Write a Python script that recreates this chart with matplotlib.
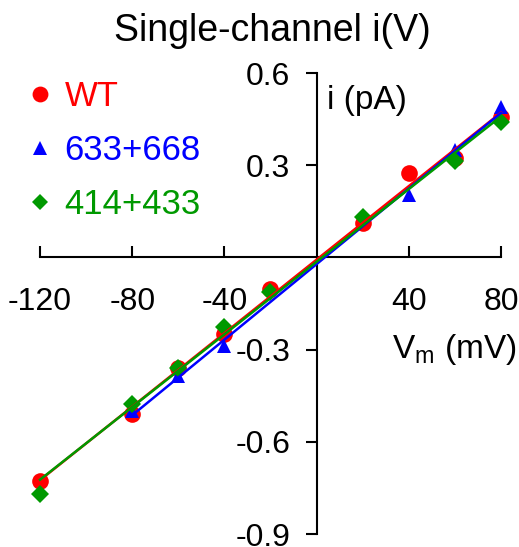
import numpy as np
import matplotlib
matplotlib.use("Agg")
import matplotlib.pyplot as plt
from matplotlib.lines import Line2D

plt.rcParams['font.family'] = ['Liberation Sans', 'DejaVu Sans']

# Data (mV, pA)
v_wt = [-120, -80, -60, -40, -20, 20, 40, 60, 80]
i_wt = [-0.727, -0.509, -0.359, -0.248, -0.104, 0.111, 0.274, 0.323, 0.456]

v_633 = [-80, -60, -40, 40, 60, 80]
i_633 = [-0.499, -0.385, -0.287, 0.202, 0.349, 0.489]

v_414 = [-120, -80, -60, -40, -20, 20, 60, 80]
i_414 = [-0.769, -0.476, -0.359, -0.225, -0.112, 0.130, 0.313, 0.440]

labels = ['WT', '633+668', '414+433']
colors = ['#ff0000', '#0000ff', '#009900']
markers = ['o', '^', 'D']
msizes = [12.0, 10.5, 9.0]

xticks = [-120, -80, -40, 40, 80]
yticks = [-0.9, -0.6, -0.3, 0.3, 0.6]
ytick_labels = ['-0.9', '-0.6', '-0.3', '0.3', '0.6']

W, H = 519, 547
fig = plt.figure(figsize=(W / 100, H / 100), dpi=100)
ax = fig.add_axes([40 / W, (H - 534) / H, 461 / W, 461 / H])
ax.set_xlim(-120, 80)
ax.set_ylim(-0.9, 0.6)

series = [(v_wt, i_wt), (v_633, i_633), (v_414, i_414)]
for (v, i), c, m, ms in zip(series, colors, markers, msizes):
    v = np.array(v, float)
    i = np.array(i, float)
    ax.plot(v, i, linestyle='none', marker=m, color=c, markersize=ms,
            markeredgewidth=0, clip_on=False, zorder=3)
for (v, i), c in zip(series, colors):
    v = np.array(v, float)
    i = np.array(i, float)
    p = np.polyfit(v, i, 1)
    xs = np.array([v.min(), v.max()])
    ax.plot(xs, np.polyval(p, xs), color=c, lw=1.8, clip_on=False, zorder=4)

for s in ['top', 'right']:
    ax.spines[s].set_visible(False)
ax.spines['left'].set_position(('data', 0))
ax.spines['bottom'].set_position(('data', 0))
ax.spines['left'].set_linewidth(1.5)
ax.spines['bottom'].set_linewidth(1.5)

ax.set_xticks(xticks)
ax.set_xticklabels([str(x) for x in xticks])
ax.set_yticks(yticks)
ax.set_yticklabels(ytick_labels)
ax.tick_params(axis='x', direction='in', length=8, width=1.5, labelsize=23, pad=21)
ax.tick_params(axis='y', direction='out', length=8, width=1.5, labelsize=23, pad=11)

fig.text(327 / W, 1 - 100 / H, 'i (pA)', fontsize=24, ha='left', va='center')
fig.text(517 / W, 1 - 358 / H, r'V$_{\mathregular{m}}$ (mV)', fontsize=24,
         ha='right', va='baseline')
fig.text(272 / W, 1 - 31 / H, 'Single-channel i(V)', fontsize=27, ha='center', va='center')

handles = [Line2D([], [], linestyle='none', marker=m, color=c, markersize=ms * 0.95,
                  markeredgewidth=0) for m, c, ms in zip(markers, colors, msizes)]
leg = fig.legend(handles, labels, loc='upper left', bbox_to_anchor=(23 / W, 1 - 80 / H),
                 frameon=False, fontsize=25, handlelength=1.0, handletextpad=0.2,
                 labelspacing=0.6, borderaxespad=0, borderpad=0)
for t, c in zip(leg.get_texts(), colors):
    t.set_color(c)

fig.savefig('out.png', dpi=100)
